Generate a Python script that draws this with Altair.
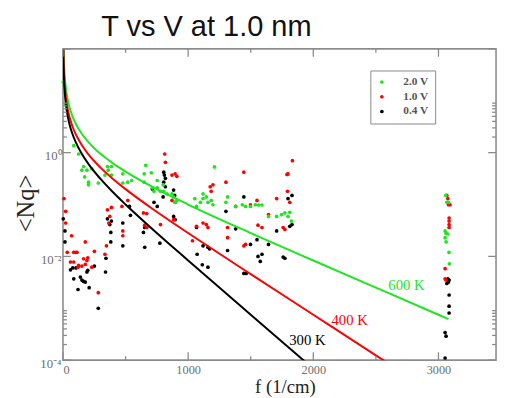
import altair as alt
import pandas as pd

# ---------------- data ----------------
series = ["2.0 V", "1.0 V", "0.4 V"]
series_colors = ["#1ee61e", "#ff0000", "#000000"]

green_f = [2, 21, 86, 125, 165, 151, 191, 173, 204, 204, 230, 282, 355, 387, 361, 335, 387, 478, 478, 518,
           549, 649, 661, 706, 649, 714, 753, 753, 779, 800, 805, 831, 871, 884, 910, 896, 727, 1053, 1067, 1098,
           1119, 1119, 1145, 1158, 1184, 1198, 1210, 1302, 1315, 1380, 1433, 1459, 1498, 1537, 1563, 1590, 1642,
           1707, 1747, 1773, 1798, 1812, 1825, 3059, 3067, 3080, 3053, 3061, 3074, 3053, 3061, 3084, 3087]
green_n = [23, 8.4, 1.36, 0.94, 0.54, 0.46, 0.46, 0.34, 0.27, 0.24, 0.49, 0.26, 0.54, 0.54, 0.46, 0.37, 0.37, 0.39, 0.26, 0.27,
           0.29, 0.39, 0.57, 0.41, 0.27, 0.21, 0.29, 0.21, 0.18, 0.24, 0.18, 0.16, 0.16, 0.14, 0.12, 0.11, 0.18, 0.13, 0.092, 0.11,
           0.13, 0.16, 0.14, 0.11, 0.12, 0.099, 0.53, 0.11, 0.14, 0.092, 0.099, 0.092, 0.092, 0.099, 0.098, 0.098, 0.059,
           0.059, 0.064, 0.069, 0.059, 0.071, 0.048, 0.15, 0.11, 0.11, 0.031, 0.028, 0.027, 0.023, 0.019, 0.012, 0.0072]

red_f = [8, 21, 21, 68, 34, 86, 112, 60, 120, 86, 100, 125, 151, 165, 178, 178, 191, 198, 230, 251,
         282, 335, 347, 355, 374, 387, 366, 471, 478, 478, 518, 643, 669, 653, 669, 779, 813, 818, 871, 896,
         910, 871, 896, 884, 1035, 1067, 1119, 1145, 1158, 1176, 1198, 1184, 1302, 1315, 1315, 1380, 1445, 1445,
         1459, 1498, 1550, 1558, 1590, 1642, 1707, 1759, 1773, 1794, 1812, 1798, 1833, 1790,
         3067, 3075, 3080, 3092, 3085, 3085, 3085, 3085, 3053, 3053, 3061]
red_n = [0.13, 0.074, 0.044, 0.025, 0.012, 0.012, 0.012, 0.0078, 0.0062, 0.0078, 0.012, 0.0067, 0.0065, 0.0090, 0.019, 0.0070, 0.0083, 0.0094, 0.0062, 0.0125,
         0.0020, 0.011, 0.016, 0.079, 0.059, 0.088, 0.044, 0.092, 0.031, 0.025, 0.12, 0.069, 0.067, 0.040, 0.036, 0.041, 0.94, 0.65, 0.37, 0.39,
         0.35, 0.12, 0.11, 0.051, 0.020, 0.038, 0.044, 0.041, 0.036, 0.22, 0.24, 0.18, 0.27, 0.036, 0.023, 0.092, 0.42, 0.016,
         0.017, 0.099, 0.12, 0.040, 0.036, 0.064, 0.13, 0.036, 0.033, 0.18, 0.11, 0.39, 0.70, 0.38,
         0.15, 0.13, 0.099, 0.099, 0.055, 0.048, 0.041, 0.036, 0.0058, 0.0037, 0.0035]

black_f = [2, 16, 16, 60, 78, 86, 104, 120, 139, 151, 165, 178, 191, 198, 209, 251, 282, 340, 343, 355,
           374, 382, 387, 382, 478, 478, 531, 539, 643, 653, 653, 714, 727, 753, 774, 805, 810, 818, 805, 818,
           800, 884, 892, 884, 896, 1067, 1072, 1113, 1119, 1158, 1158, 1171, 1302, 1315, 1380, 1445, 1445, 1464,
           1498, 1550, 1558, 1576, 1590, 1642, 1707, 1759, 1773, 1798, 1812, 1830, 1830,
           3075, 3085, 3067, 3080, 3085, 3085, 3085, 3053, 3061, 3053]
black_n = [0.053, 0.031, 0.019, 0.0055, 0.0060, 0.0037, 0.0060, 0.0023, 0.0040, 0.0035, 0.0033, 0.0032, 0.0050, 0.0054, 0.0025, 0.0065, 0.0010, 0.0050, 0.0092, 0.053,
           0.041, 0.029, 0.048, 0.019, 0.044, 0.016, 0.092, 0.062, 0.029, 0.036, 0.015, 0.20, 0.11, 0.092, 0.018, 0.42, 0.37, 0.32, 0.27, 0.22,
           0.14, 0.19, 0.15, 0.059, 0.051, 0.036, 0.011, 0.0069, 0.016, 0.015, 0.0062, 0.014, 0.074, 0.013, 0.034, 0.14, 0.0047, 0.0047,
           0.017, 0.021, 0.010, 0.0080, 0.011, 0.017, 0.031, 0.0097, 0.0092, 0.13, 0.038, 0.041, 0.15,
           0.0037, 0.0035, 0.0030, 0.0032, 0.0018, 0.0011, 0.00081, 0.00034, 0.00029, 0.00011]

curves = ["600 K", "400 K", "300 K"]
curve_colors = ["#1ee61e", "#ff0000", "#000000"]
f_600 = [3, 5, 7, 10, 20, 30, 50, 75, 100, 150, 200, 250, 300, 350, 400, 500, 700, 1000, 1500, 2000, 2500, 3000, 3080]
n_600 = [138.5, 82.9, 59.1, 41.2, 20.35, 13.40, 7.85, 5.07, 3.69, 2.31, 1.625, 1.218, 0.949, 0.761, 0.621, 0.432, 0.229,
         0.100, 0.0282, 0.00833, 0.00250, 0.000751, 0.000620]
f_400 = [2, 5, 7, 10, 20, 30, 50, 75, 100, 150, 200, 300, 400, 500, 700, 1000, 1500, 2000, 2500, 2600]
n_400 = [138.5, 55.1, 39.2, 27.3, 13.40, 8.77, 5.07, 3.23, 2.31, 1.398, 0.949, 0.515, 0.311, 0.198, 0.0877, 0.0282,
         0.00456, 0.000751, 0.000124, 0.0000867]
f_300 = [1.5, 3, 5, 7, 10, 20, 30, 50, 75, 100, 150, 200, 300, 400, 500, 700, 1000, 1500, 2000]
n_300 = [138.5, 69.0, 41.2, 29.3, 20.35, 9.93, 6.46, 3.69, 2.31, 1.625, 0.949, 0.621, 0.311, 0.172, 0.100, 0.0361,
         0.00833, 0.000751, 0.0000683]

label_f = [2745, 2290, 1953]
label_n = [0.00276, 0.000598, 0.000239]

x_major = [0, 1000, 2000, 3000]
x_minor = [500, 1500, 2500]
y_major = [0.0001, 0.01, 1, 100]
y_minor = [0.0002, 0.0003, 0.0004, 0.0005, 0.0006, 0.0007, 0.0008, 0.0009,
           2, 3, 4, 5, 6, 7, 8, 9]
y_labels = [0.0001, 0.01, 1]

# ---------------- tables ----------------
pts = pd.concat([
    pd.DataFrame({"f": black_f, "n": black_n, "V": "0.4 V"}),
    pd.DataFrame({"f": red_f, "n": red_n, "V": "1.0 V"}),
    pd.DataFrame({"f": green_f, "n": green_n, "V": "2.0 V"}),
], ignore_index=True)
lines = pd.concat([
    pd.DataFrame({"f": f_600, "n": n_600, "T": "600 K"}),
    pd.DataFrame({"f": f_400, "n": n_400, "T": "400 K"}),
    pd.DataFrame({"f": f_300, "n": n_300, "T": "300 K"}),
], ignore_index=True)
labels = pd.DataFrame({"f": label_f, "n": label_n, "T": curves})

W, H = 441, 317
SERIF = "Liberation Serif"

xs = alt.Scale(domain=[0, 3460], nice=False, zero=False)
ys = alt.Scale(type="log", domain=[0.0001, 100], nice=False)

label_expr = "datum.value >= 0.5 ? '10⁰' : (datum.value >= 0.005 ? '10⁻²' : '10⁻⁴')"

x_enc = alt.X("f:Q", scale=xs, axis=alt.Axis(
    values=x_major, format="d", labelFont=SERIF, labelFontSize=12.5, labelColor="#6e6e6e", labelPadding=4,
    title="f (1/cm)", titleFont=SERIF, titleFontSize=19, titleFontWeight="normal", titleColor="#222",
    titleX=226, titleY=18, titleBaseline="top"))
y_enc = alt.Y("n:Q", scale=ys, axis=alt.Axis(
    values=y_labels, labelExpr=label_expr, labelFont=SERIF, labelFontSize=13, labelColor="#6e6e6e",
    labelPadding=2, labelOffset=3,
    title="<Nq>", titleFont=SERIF, titleFontSize=25, titleFontWeight="normal", titleColor="#222",
    titleX=-38, titleY=157, titleAngle=270, titleAlign="center", titleBaseline="middle"))

points = alt.Chart(pts).mark_circle(size=14, opacity=1).encode(
    x=x_enc, y=y_enc,
    color=alt.Color("V:N", scale=alt.Scale(domain=series, range=series_colors),
                    legend=alt.Legend(title=None, orient="none", legendX=313, legendY=22,
                                      strokeColor="#888", fillColor="white", padding=6,
                                      symbolType="circle", symbolSize=14, symbolStrokeWidth=0,
                                      labelFont=SERIF, labelFontSize=11.5, labelColor="#555",
                                      labelFontWeight="bold", labelOffset=16, rowPadding=2)),
    order=alt.Order("V:N")
)

curve_lines = alt.Chart(lines).mark_line(strokeWidth=2, clip=True, interpolate="monotone").encode(
    x=alt.X("f:Q", scale=xs), y=alt.Y("n:Q", scale=ys),
    color=alt.Color("T:N", scale=alt.Scale(domain=curves, range=curve_colors), legend=None),
    detail="T:N"
)

curve_text = alt.Chart(labels).mark_text(font=SERIF, fontSize=15, align="center", baseline="middle").encode(
    x=alt.X("f:Q", scale=xs), y=alt.Y("n:Q", scale=ys), text="T:N",
    color=alt.Color("T:N", scale=alt.Scale(domain=curves, range=curve_colors), legend=None)
)

tick_col = "#8a8a8a"
def xticks(vals, length):
    d = pd.DataFrame({"f": vals})
    bot = alt.Chart(d).mark_rule(color=tick_col, strokeWidth=1.3).encode(
        x=alt.X("f:Q", scale=xs), y=alt.value(H), y2=alt.value(H - length))
    top = alt.Chart(d).mark_rule(color=tick_col, strokeWidth=1.3).encode(
        x=alt.X("f:Q", scale=xs), y=alt.value(0), y2=alt.value(length))
    return bot + top

def yticks(vals, length):
    d = pd.DataFrame({"n": vals})
    left = alt.Chart(d).mark_rule(color=tick_col, strokeWidth=1.3).encode(
        y=alt.Y("n:Q", scale=ys), x=alt.value(0), x2=alt.value(length))
    right = alt.Chart(d).mark_rule(color=tick_col, strokeWidth=1.3).encode(
        y=alt.Y("n:Q", scale=ys), x=alt.value(W), x2=alt.value(W - length))
    return left + right

chart = alt.layer(
    points, curve_lines, curve_text,
    xticks(x_major, 8), xticks(x_minor, 4), yticks(y_major, 8), yticks(y_minor, 4)
).resolve_scale(color="independent").properties(
    width=W, height=H,
    autosize=alt.AutoSizeParams(type="none"),
    padding={"left": 56, "top": 38, "right": 2, "bottom": 40},
    title=alt.Title("T vs V at 1.0 nm", font="Liberation Sans", fontSize=29.5, fontWeight="normal",
                    color="#111", anchor="start", frame="group", dx=39, offset=6)
).configure_view(stroke="#8c8c8c", strokeWidth=1.6).configure_axis(
    grid=False, domain=False, ticks=False
)

chart.save("out.html", embed_options={"renderer": "svg", "actions": False})
